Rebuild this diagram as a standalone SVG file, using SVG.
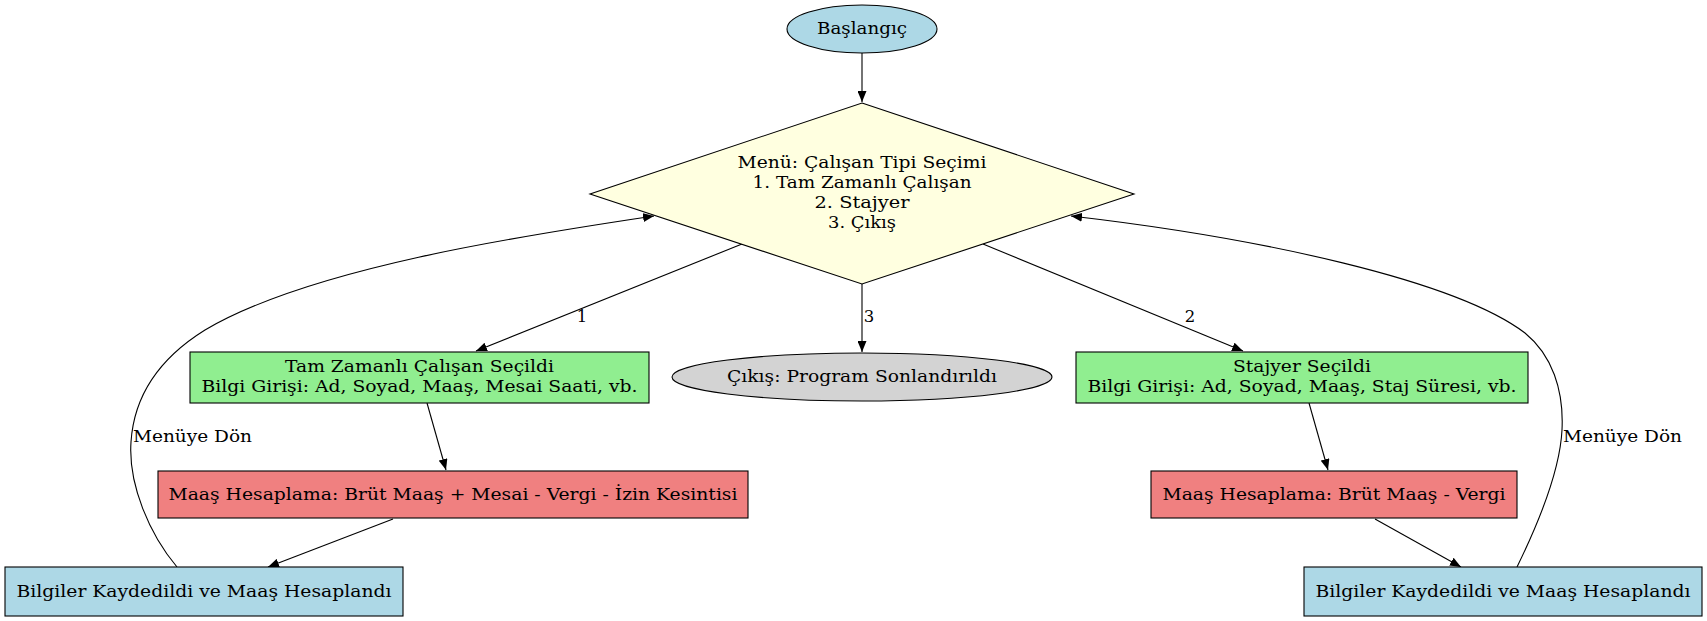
<svg xmlns="http://www.w3.org/2000/svg" width="1707" height="621" viewBox="0 0 1707 621">
<style>
text{font-family:"DejaVu Serif","Liberation Serif",serif;font-size:16.5px;fill:#000;text-anchor:middle}
.lbl{text-anchor:start}
.n{stroke:#000;stroke-width:1.1}
.e{fill:none;stroke:#000;stroke-width:1.1}
</style>
<defs>
<marker id="ah" markerUnits="userSpaceOnUse" markerWidth="12" markerHeight="9" refX="11" refY="4.5" orient="auto">
<path d="M0,0 L11,4.5 L0,9 z" fill="#000"/>
</marker>
</defs>
<rect width="1707" height="621" fill="#fff"/>
<g id="connectors">
<path class="e" d="M862,53 L862,102" marker-end="url(#ah)"/>
<path class="e" d="M742,244 L476,351" marker-end="url(#ah)"/>
<path class="e" d="M862,284 L862,352" marker-end="url(#ah)"/>
<path class="e" d="M983,244 L1243,351" marker-end="url(#ah)"/>
<path class="e" d="M427,403 L446,470" marker-end="url(#ah)"/>
<path class="e" d="M1309,403 L1328,470" marker-end="url(#ah)"/>
<path class="e" d="M393,519 L268,567" marker-end="url(#ah)"/>
<path class="e" d="M1375,519 L1461,567" marker-end="url(#ah)"/>
<path class="e" d="M177,567 C150,535 128,485 131,442 C134,395 160,358 205,330 C310,268 520,236 654,216" marker-end="url(#ah)"/>
<path class="e" d="M1517,567 C1540,520 1560,470 1562,430 C1564,390 1552,355 1525,333 C1455,280 1260,238 1071,216" marker-end="url(#ah)"/>
<text x="582" y="322">1</text>
<text x="869" y="322">3</text>
<text x="1190" y="322">2</text>
<text class="lbl" x="133" y="442" textLength="119" lengthAdjust="spacingAndGlyphs">Menüye Dön</text>
<text class="lbl" x="1563" y="442" textLength="119" lengthAdjust="spacingAndGlyphs">Menüye Dön</text>
</g>
<g id="start">
<ellipse class="n" cx="862" cy="29" rx="75" ry="24" fill="#add8e6"/>
<text x="862" y="34" textLength="90" lengthAdjust="spacingAndGlyphs">Başlangıç</text>
</g>
<g id="menu">
<polygon class="n" points="862,103 1134,194 862,284 590,194" fill="#ffffe0"/>
<text x="862" y="168" textLength="249" lengthAdjust="spacingAndGlyphs">Menü: Çalışan Tipi Seçimi</text>
<text x="862" y="188" textLength="219" lengthAdjust="spacingAndGlyphs">1. Tam Zamanlı Çalışan</text>
<text x="862" y="208" textLength="95" lengthAdjust="spacingAndGlyphs">2. Stajyer</text>
<text x="862" y="228" textLength="68" lengthAdjust="spacingAndGlyphs">3. Çıkış</text>
</g>
<g id="tam">
<rect class="n" x="190" y="352" width="459" height="51" fill="#90ee90"/>
<text x="419.5" y="372" textLength="269" lengthAdjust="spacingAndGlyphs">Tam Zamanlı Çalışan Seçildi</text>
<text x="419.5" y="392" textLength="436" lengthAdjust="spacingAndGlyphs">Bilgi Girişi: Ad, Soyad, Maaş, Mesai Saati, vb.</text>
</g>
<g id="cikis">
<ellipse class="n" cx="862" cy="377" rx="190" ry="24" fill="#d3d3d3"/>
<text x="862" y="382" textLength="270" lengthAdjust="spacingAndGlyphs">Çıkış: Program Sonlandırıldı</text>
</g>
<g id="stajyer">
<rect class="n" x="1076" y="352" width="452" height="51" fill="#90ee90"/>
<text x="1302" y="372" textLength="138" lengthAdjust="spacingAndGlyphs">Stajyer Seçildi</text>
<text x="1302" y="392" textLength="429" lengthAdjust="spacingAndGlyphs">Bilgi Girişi: Ad, Soyad, Maaş, Staj Süresi, vb.</text>
</g>
<g id="maas1">
<rect class="n" x="158" y="471" width="590" height="47" fill="#f08080"/>
<text x="453" y="500" textLength="569" lengthAdjust="spacingAndGlyphs">Maaş Hesaplama: Brüt Maaş + Mesai - Vergi - İzin Kesintisi</text>
</g>
<g id="maas2">
<rect class="n" x="1151" y="471" width="366" height="47" fill="#f08080"/>
<text x="1334" y="500" textLength="343" lengthAdjust="spacingAndGlyphs">Maaş Hesaplama: Brüt Maaş - Vergi</text>
</g>
<g id="bilgi1">
<rect class="n" x="5" y="567" width="398" height="49" fill="#add8e6"/>
<text x="204" y="597" textLength="375" lengthAdjust="spacingAndGlyphs">Bilgiler Kaydedildi ve Maaş Hesaplandı</text>
</g>
<g id="bilgi2">
<rect class="n" x="1304" y="567" width="398" height="49" fill="#add8e6"/>
<text x="1503" y="597" textLength="375" lengthAdjust="spacingAndGlyphs">Bilgiler Kaydedildi ve Maaş Hesaplandı</text>
</g>
</svg>
